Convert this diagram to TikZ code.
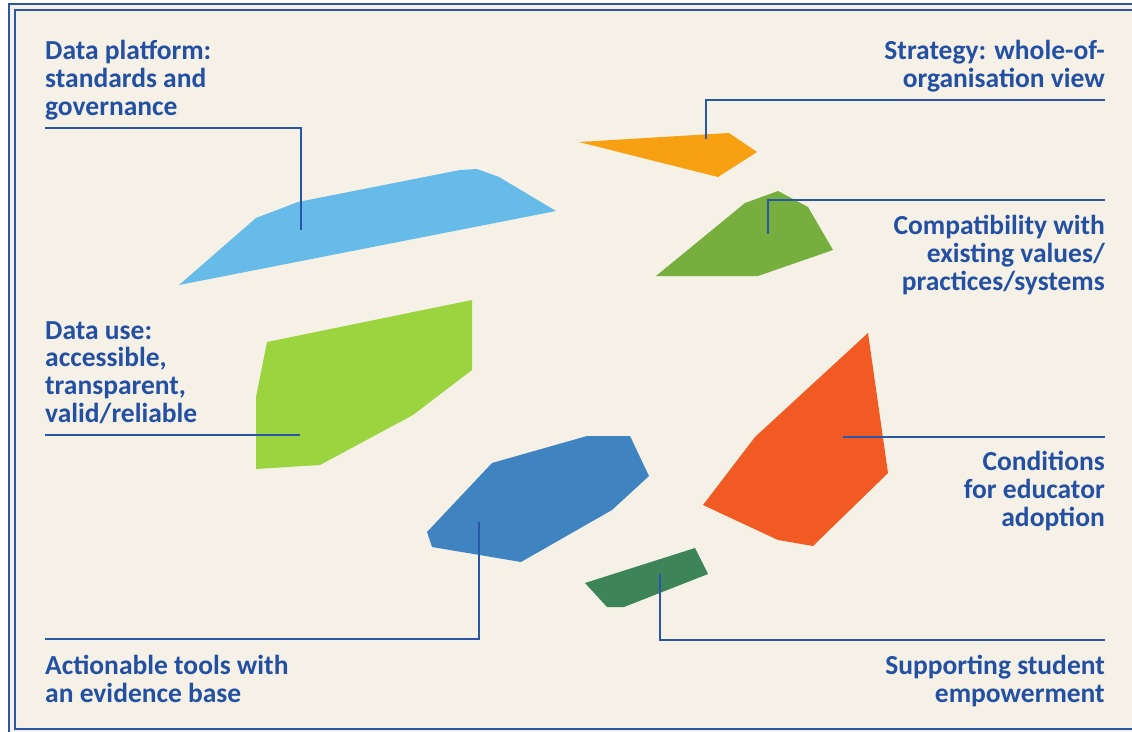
\documentclass[tikz,border=0pt]{standalone}
\usepackage{fontspec}
\setmainfont{Carlito}
\usepackage{tikz}
\usetikzlibrary{positioning}

\definecolor{cream}{HTML}{F5F1E6}
\definecolor{txtblue}{HTML}{2350A2}
\definecolor{lineblue}{HTML}{2A56A8}
\definecolor{skyblue}{HTML}{67BBE9}
\definecolor{amber}{HTML}{F7A012}
\definecolor{leaf}{HTML}{76AF3D}
\definecolor{lime}{HTML}{9BD43F}
\definecolor{steel}{HTML}{3F84C1}
\definecolor{flame}{HTML}{F15A22}
\definecolor{pine}{HTML}{3D8459}

\tikzset{
  lbl/.style={font=\bfseries\fontsize{27.5}{27.6}\selectfont, text=txtblue, inner sep=0pt},
  lleft/.style={lbl, align=left, anchor=base west},
  lright/.style={lbl, align=right, anchor=base east},
  pin/.style={draw=lineblue, line width=2.7pt},
  frame/.style={draw=lineblue, line width=1.3pt},
}

\begin{document}
\begin{tikzpicture}[x=1pt, y=-1pt]
	  \useasboundingbox (0,0) rectangle (1132,731);
	  \clip (0,0) rectangle (1132,731);
	  \fill[cream] (9,4) rectangle (1150,750);
	  \draw[frame] (9,750) -- (9,4) -- (1150,4);
	  \draw[frame] (15,10) rectangle (1150,729);

	  % pieces
	  \fill[skyblue] (179,285) -- (256,218) -- (298,202) -- (460,170) -- (477,169) -- (499,177) -- (556,211) -- cycle;
	  \fill[amber] (579,142) -- (729,133) -- (757,152) -- (718,177) -- cycle;
	  \fill[leaf] (656,276) -- (745,203) -- (778,191) -- (808,207) -- (833,250) -- (758,276) -- cycle;
	  \fill[lime] (267,342) -- (472,300) -- (472,370) -- (413,415) -- (320,465) -- (256,469) -- (256,397) -- cycle;
	  \fill[steel] (492,463) -- (587,436) -- (630,436) -- (649,476) -- (612,510) -- (521,562) -- (432,547) -- (427,532) -- cycle;
	  \fill[flame] (868,333) -- (888,473) -- (813,546) -- (778,540) -- (703,505) -- (755,437) -- cycle;
	  \fill[pine] (585,583) -- (695,548) -- (708,574) -- (624,607) -- (607,607) -- cycle;

	  % labels (anchored at the last baseline)
	  \node[lleft] (platform) at (45,115) {Data platform:\\standards and\\governance};
	  \node[lright] (strategy) at (1105,87) {Strategy: whole-of-\\organisation view};
	  \node[lright] (compat) at (1105,290) {Compatibility with\\existing values/\\practices/systems};
	  \node[lleft] (datause) at (45,422) {Data use:\\accessible,\\transparent,\\valid/reliable};
	  \node[lright] (educator) at (1105,526) {Conditions\\for educator\\adoption};
	  \node[lleft] (tools) at (45,702) {Actionable tools with\\an evidence base};
	  \node[lright] (student) at (1105,702) {Supporting student\\empowerment};

	  % pins
	  \coordinate (platform-a) at (45,128);
	  \coordinate (platform-b) at (301,230);
	  \coordinate (strategy-a) at (1105,100);
	  \coordinate (strategy-b) at (706,139);
	  \coordinate (compat-a) at (1105,200);
	  \coordinate (compat-b) at (768,234);
	  \coordinate (datause-a) at (45,435);
	  \coordinate (datause-b) at (300,435);
	  \coordinate (educator-a) at (1105,437);
	  \coordinate (educator-b) at (843,437);
	  \coordinate (tools-a) at (45,639);
	  \coordinate (tools-b) at (479,522);
	  \coordinate (student-a) at (1105,640);
	  \coordinate (student-b) at (660,574);

	  \draw[pin] (platform-a) -| (platform-b);
	  \draw[pin] (strategy-a) -| (strategy-b);
	  \draw[pin] (compat-a) -| (compat-b);
	  \draw[pin] (datause-a) -- (datause-b);
	  \draw[pin] (educator-a) -- (educator-b);
	  \draw[pin] (tools-a) -| (tools-b);
	  \draw[pin] (student-a) -| (student-b);
\end{tikzpicture}
\end{document}
